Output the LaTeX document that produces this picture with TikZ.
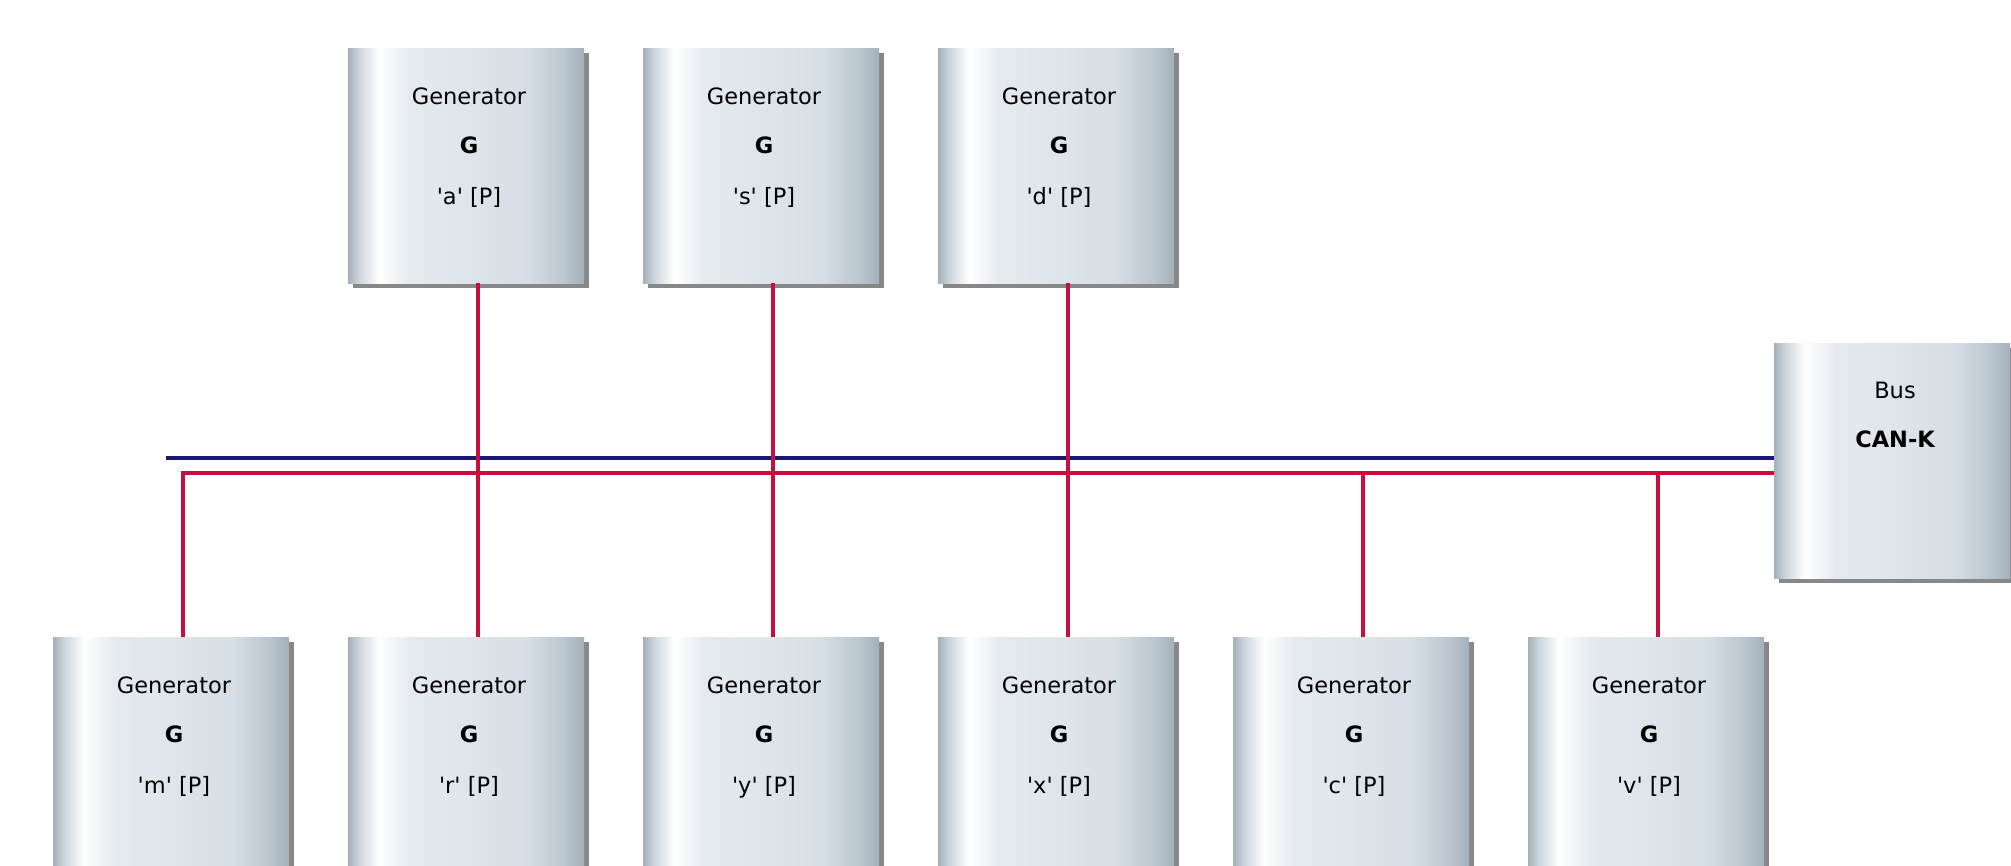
\documentclass[tikz,border=0pt]{standalone}
\usepackage{fontspec}
\setmainfont{DejaVu Sans}[Ligatures=TeXOff]
\usetikzlibrary{shadows,calc}
\definecolor{c0}{RGB}{164,176,187}
\definecolor{c1}{RGB}{205,213,220}
\definecolor{c2}{RGB}{255,255,255}
\definecolor{c3}{RGB}{230,234,238}
\definecolor{c4}{RGB}{222,229,235}
\definecolor{c5}{RGB}{214,222,229}
\definecolor{c6}{RGB}{188,199,208}
\definecolor{c7}{RGB}{163,176,187}
\definecolor{busblue}{RGB}{24,24,112}
\definecolor{busred}{RGB}{196,16,60}
\pgfdeclarehorizontalshading{cyl}{100bp}{color(0bp)=(c0); color(25bp)=(c0); color(27.3bp)=(c1); color(31.5bp)=(c2); color(38bp)=(c3); color(50bp)=(c4); color(63bp)=(c5); color(70.5bp)=(c6); color(75bp)=(c7); color(100bp)=(c7)}
\tikzset{
  genbox/.style={anchor=north west, inner sep=0pt, minimum width=236pt, minimum height=235pt, shading=cyl,
    drop shadow={shadow xshift=5pt, shadow yshift=-5pt, fill=black!55, opacity=0.85}},
  txt/.style={anchor=base, inner sep=0pt, font=\fontsize{22.5}{27}\selectfont, text=black},
  btxt/.style={txt, font=\fontsize{22.5}{27}\selectfont\bfseries},
  redwire/.style={draw=busred, line width=4.5pt},
  bluewire/.style={draw=busblue, line width=4.5pt},
}
\newcommand\gen[4]{%
  \node[genbox] (#1) at (#2,#3) {};
  \node[txt] (#1-l1) at ([xshift=121pt,yshift=-56pt]#1.north west) {Generator};
  \node[btxt] (#1-l2) at ([xshift=121pt,yshift=-105pt]#1.north west) {G};
  \node[txt] (#1-l3) at ([xshift=121pt,yshift=-156pt]#1.north west) {#4};
}
\begin{document}
\begin{tikzpicture}[x=1pt,y=-1pt]
\useasboundingbox (0,0) rectangle (2011,865);
\clip (0,0) rectangle (2011,865);
% top row
\gen{a}{348}{48}{'a' [P]}
\gen{s}{643}{48}{'s' [P]}
\gen{d}{938}{48}{'d' [P]}
% bottom row
\gen{m}{53}{637}{'m' [P]}
\gen{r}{348}{637}{'r' [P]}
\gen{y}{643}{637}{'y' [P]}
\gen{x}{938}{637}{'x' [P]}
\gen{c}{1233}{637}{'c' [P]}
\gen{v}{1528}{637}{'v' [P]}
% bus box
\node[genbox] (bus) at (1774,343) {};
\node[txt] (bus-l1) at ([xshift=121pt,yshift=-55pt]bus.north west) {Bus};
\node[btxt] (bus-l2) at ([xshift=121pt,yshift=-104pt]bus.north west) {CAN-K};
% bus lines
\coordinate (blue-start) at (166,458);
\draw[bluewire] (blue-start) -- (blue-start -| bus.west);
\coordinate (red-corner) at (183,473);
\draw[redwire, line join=miter] ([xshift=130pt]m.north west) -- (red-corner) -- (red-corner -| bus.west);
% drops
\draw[redwire] ([xshift=130pt]a.south west) -- ([xshift=130pt]r.north west);
\draw[redwire] ([xshift=130pt]s.south west) -- ([xshift=130pt]y.north west);
\draw[redwire] ([xshift=130pt]d.south west) -- ([xshift=130pt]x.north west);
\draw[redwire] ([xshift=130pt]c.north west) -- ([xshift=130pt]c.north west |- red-corner);
\draw[redwire] ([xshift=130pt]v.north west) -- ([xshift=130pt]v.north west |- red-corner);
\end{tikzpicture}
\end{document}
